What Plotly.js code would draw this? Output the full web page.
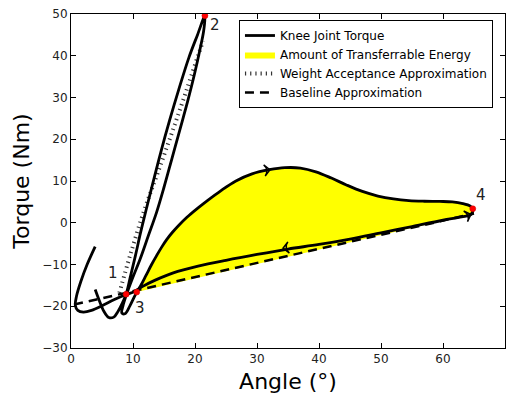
<!DOCTYPE html>
<html>
<head>
<meta charset="utf-8">
<script src="https://cdn.plot.ly/plotly-3.0.1.min.js"></script>
<style>html,body{margin:0;padding:0;background:#fff}#chart{width:511px;height:396px}</style>
</head>
<body>
<div id="chart"></div>
<script>
// ---- data ----
// knee joint torque path, segment A: small loop, then rise 1 -> 2
const kneeRiseX = [3.9, 4.5, 5.3, 6.1, 6.9, 7.6, 8.3, 8.9, 9.6, 10.4, 11.2, 12.1, 13.2, 14.5, 15.9, 17.4, 19.0, 20.4, 21.6];
const kneeRiseY = [-16.0, -18.4, -21.2, -22.7, -22.6, -21.2, -19.2, -17.1, -12.8, -7.8, -2.5, 3.0, 9.5, 17.0, 24.5, 32.0, 39.5, 45.0, 49.6];
// segment B: fall 2 -> 3
const kneeFallX = [21.4, 20.8, 19.9, 18.8, 17.6, 16.3, 15.0, 13.8, 12.5, 11.2, 10.0, 9.0, 8.4, 8.2, 8.7, 9.5, 10.6];
const kneeFallY = [46.0, 41.5, 35.5, 29.0, 22.5, 15.5, 8.5, 2.5, -3.0, -8.5, -13.0, -17.0, -19.8, -21.6, -21.8, -19.9, -16.6];
// segment C: upper curve 3 -> 4
const kneeTopX = [10.6, 11.3, 12.1, 13.0, 13.8, 14.6, 15.4, 16.3, 17.4, 18.7, 20.2, 22.0, 24.2, 26.6, 29.2, 32.0, 34.5, 37.0, 39.5, 42.0, 44.5, 47.0, 49.5, 52.0, 54.5, 57.0, 59.5, 61.5, 63.2, 64.4, 64.8];
const kneeTopY = [-16.6, -14.9, -12.6, -10.0, -7.9, -5.9, -4.1, -2.4, -0.6, 1.3, 3.2, 5.3, 7.7, 10.0, 11.7, 12.7, 13.2, 13.1, 12.2, 10.7, 9.0, 7.5, 6.4, 5.7, 5.3, 5.15, 5.1, 5.0, 4.6, 4.0, 3.35];
// segment D: lower return curve 4 -> end
const kneeReturnX = [64.5, 63.0, 60.0, 55.0, 50.0, 45.0, 40.0, 35.0, 30.0, 25.0, 20.5, 16.5, 13.5, 11.5, 10.2, 8.9, 7.0, 5.0, 3.3, 2.0, 1.1, 0.7, 0.9, 1.6, 2.6, 3.9];
const kneeReturnY = [2.0, 1.4, 0.6, -0.9, -2.4, -3.9, -5.2, -6.3, -7.6, -9.0, -10.4, -12.0, -13.8, -15.3, -16.5, -17.2, -18.4, -19.9, -21.0, -21.4, -21.0, -19.8, -17.5, -14.0, -10.0, -5.7];

// weight acceptance approximation (dotted)
const weightX = [7.8, 9.5, 11.7, 14.0, 16.5, 18.8, 20.6, 21.3];
const weightY = [-16.8, -8.0, 2.5, 12.0, 22.5, 32.5, 40.5, 43.5];

// baseline approximation (dashed)
const baseX = [0.5, 65.0];
const baseY = [-19.6, 2.2];

// numbered key points
const pointX = [8.9, 21.6, 10.6, 64.8];
const pointY = [-17.1, 49.6, -16.6, 3.35];
const pointLabels = ['1', '2', '3', '4'];

// direction arrows on the loop
const arrowX = [32.1, 34.2, 64.5];
const arrowY = [12.7, -6.1, 2.0];
const arrowDir = [82, 262, 70];

// ---- build the chart ----
const kneeX = kneeRiseX.concat(kneeFallX, kneeTopX.slice(1), kneeReturnX);
const kneeY = kneeRiseY.concat(kneeFallY, kneeTopY.slice(1), kneeReturnY);

const fillX = kneeTopX.concat([baseX[1]]);
const fillY = kneeTopY.concat([baseY[1]]);

const FONT = 'DejaVu Sans, Verdana, sans-serif';

const traces = [
  {
    x: fillX, y: fillY, type: 'scatter', mode: 'lines',
    fill: 'toself', fillcolor: '#ffff00',
    line: {width: 0, color: '#ffff00', shape: 'spline', smoothing: 1},
    name: 'Amount of Transferrable Energy', legendrank: 2, hoverinfo: 'skip'
  },
  {
    x: baseX, y: baseY, type: 'scatter', mode: 'lines',
    line: {color: '#000', width: 2.5, dash: '9px,6px'},
    name: 'Baseline Approximation', legendrank: 4
  },
  {
    x: weightX, y: weightY, type: 'scatter', mode: 'lines',
    line: {color: '#333', width: 4, dash: '1.2px,4px', shape: 'spline'},
    name: 'Weight Acceptance Approximation', legendrank: 3
  },
  {
    x: kneeX, y: kneeY, type: 'scatter', mode: 'lines',
    line: {color: '#000', width: 2.8, shape: 'spline', smoothing: 1},
    name: 'Knee Joint Torque', legendrank: 1
  },
  {
    x: arrowX, y: arrowY, type: 'scatter', mode: 'markers',
    marker: {symbol: 'arrow-wide-open', size: 8, angle: arrowDir, color: '#000', line: {color: '#000', width: 1.5}},
    showlegend: false, hoverinfo: 'skip'
  },
  {
    x: pointX, y: pointY, type: 'scatter', mode: 'markers',
    marker: {color: '#ff0000', size: 6, line: {color: '#cc0000', width: 0.5}},
    showlegend: false
  }
];

const labelShift = [[-13, 21], [10, -9], [3, -16], [8, 14]];
const annotations = pointLabels.map((t, i) => ({
  x: pointX[i], y: pointY[i], xref: 'x', yref: 'y', text: t, showarrow: false,
  xshift: labelShift[i][0], yshift: labelShift[i][1],
  font: {family: FONT, size: 15, color: '#222'}
}));

const layout = {
  width: 511, height: 396,
  margin: {l: 71, r: 6, t: 14, b: 48},
  paper_bgcolor: '#fff', plot_bgcolor: '#fff',
  font: {family: FONT, size: 12, color: '#000'},
  showlegend: true,
  legend: {
    x: 0.387, y: 0.982, xanchor: 'left', yanchor: 'top',
    bgcolor: '#fff', bordercolor: '#000', borderwidth: 1,
    font: {family: FONT, size: 12, color: '#000'},
    tracegroupgap: 0, itemwidth: 30
  },
  xaxis: {
    range: [0, 70], dtick: 10, tick0: 0,
    ticks: 'inside', ticklen: 5, tickcolor: '#000', mirror: 'allticks',
    showline: true, linecolor: '#000', linewidth: 1,
    showgrid: false, zeroline: false,
    tickfont: {family: FONT, size: 12, color: '#222'},
    title: {text: 'Angle (°)', font: {family: FONT, size: 22, color: '#000'}, standoff: 8}
  },
  yaxis: {
    range: [-30, 50], dtick: 10, tick0: 0,
    ticks: 'inside', ticklen: 5, tickcolor: '#000', mirror: 'allticks',
    showline: true, linecolor: '#000', linewidth: 1,
    showgrid: false, zeroline: false,
    tickfont: {family: FONT, size: 12, color: '#222'},
    title: {text: 'Torque (Nm)', font: {family: FONT, size: 22, color: '#000'}, standoff: 6}
  },
  annotations: annotations
};

Plotly.newPlot('chart', traces, layout, {displayModeBar: false, staticPlot: true});
</script>
</body>
</html>
